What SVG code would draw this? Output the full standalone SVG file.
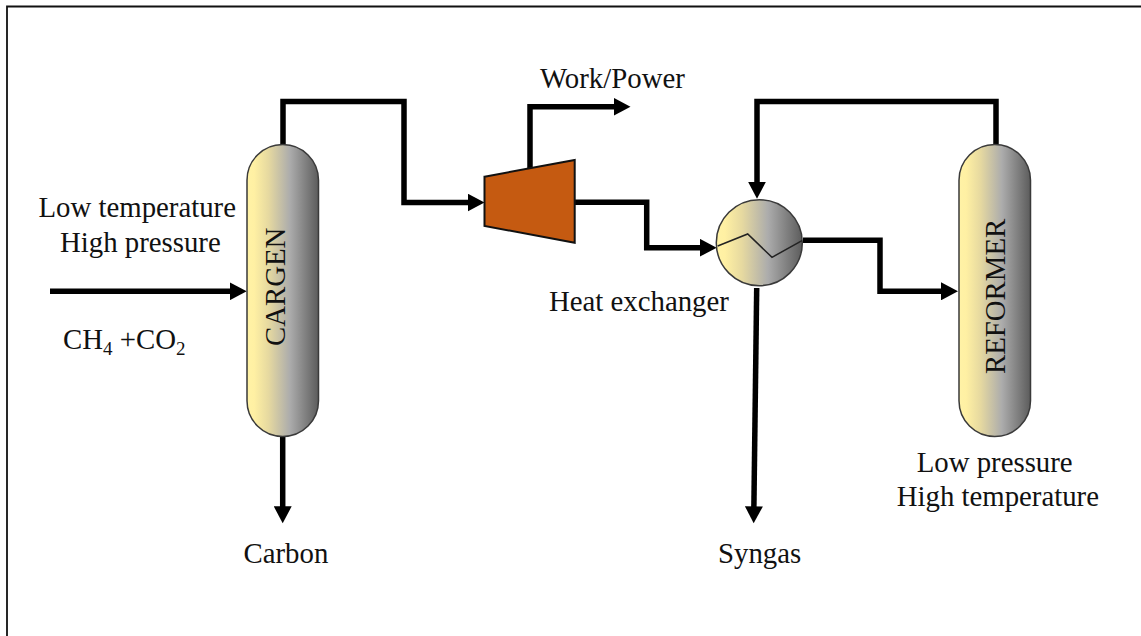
<svg xmlns="http://www.w3.org/2000/svg" width="1141" height="636" viewBox="0 0 1141 636">
<style>
text{font-family:"Liberation Serif","Times New Roman",serif;font-size:28.8px;fill:#111}
.c{fill:none;stroke:#000;stroke-width:5.5;stroke-linejoin:miter}
.v{fill:url(#g);stroke:#3a3a3a;stroke-width:1.5}
</style>
<defs>
<linearGradient id="g" x1="0" x2="1" y1="0" y2="0">
<stop offset="0" stop-color="#fff2a6"/><stop offset="0.1" stop-color="#fff0a3"/><stop offset="0.3" stop-color="#e6d9a0"/><stop offset="0.6" stop-color="#acacac"/><stop offset="1" stop-color="#5c5c5c"/>
</linearGradient>
<marker id="a" markerUnits="userSpaceOnUse" markerWidth="18" markerHeight="18" refX="7" refY="9" orient="auto"><path d="M0 0L17 9L0 18z" fill="#000"/></marker>
</defs>
<rect width="1141" height="636" fill="#fff"/>
<path d="M7 636V6.500H1141" fill="none" stroke="#111" stroke-width="1.800"/>
<g id="connectors">
<path class="c" d="M283 146V101.500H404V202.500H474.500" marker-end="url(#a)"/>
<path class="c" d="M50 291.300H236.700" marker-end="url(#a)"/>
<path class="c" d="M282.700 436V513.300" marker-end="url(#a)"/>
<path class="c" d="M530 168V106.700H620.500" marker-end="url(#a)"/>
<path class="c" d="M574 202.300H646.700V247.700H706.700" marker-end="url(#a)"/>
<path class="c" d="M996 146V101.500H757V188.700" marker-end="url(#a)"/>
<path class="c" d="M803 240.300H880V291.300H948" marker-end="url(#a)"/>
<path class="c" d="M756.700 288L753.800 513.300" marker-end="url(#a)"/>
</g>
<g id="cargen"><rect class="v" x="247" y="144.500" width="71.500" height="292" rx="35.700"/><text transform="translate(284.500 346) rotate(-90)">CARGEN</text></g>
<g id="reformer"><rect class="v" x="959" y="144.500" width="71.500" height="292" rx="35.700"/><text transform="translate(1005 374) rotate(-90)">REFORMER</text></g>
<g id="turbine"><path d="M484.500 176.700L574.700 160V242.700L484.500 226z" fill="#c55a11" stroke="#111" stroke-width="2"/></g>
<g id="heat-exchanger"><circle class="v" cx="759.300" cy="242.700" r="43"/><path d="M717.700 246L747.700 234L772 257.300L802 240.700" fill="none" stroke="#222" stroke-width="1.500"/></g>
<g id="labels">
<text x="540" y="88">Work/Power</text>
<text x="38.500" y="216.700">Low temperature</text>
<text x="60" y="252">High pressure</text>
<text x="63" y="348.500">CH<tspan font-size="19" dy="6">4</tspan><tspan dy="-6"> +CO</tspan><tspan font-size="19" dy="6">2</tspan></text>
<text x="549" y="310.500">Heat exchanger</text>
<text x="916.700" y="471.500">Low pressure</text>
<text x="896.700" y="506">High temperature</text>
<text x="243.500" y="562.500">Carbon</text>
<text x="718" y="562.500">Syngas</text>
</g>
</svg>
